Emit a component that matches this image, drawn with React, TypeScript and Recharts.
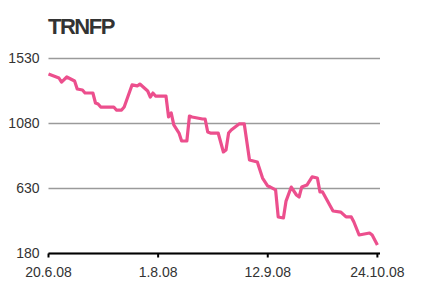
import React from "react";
import {
  LineChart,
  Line,
  XAxis,
  YAxis,
  CartesianGrid,
} from "recharts";

const title = "TRNFP";

// closing prices
const dates = [
  "2008-06-20", "2008-06-24", "2008-06-25", "2008-06-27", "2008-06-30",
  "2008-07-01", "2008-07-03", "2008-07-04", "2008-07-07", "2008-07-08",
  "2008-07-09", "2008-07-10", "2008-07-15", "2008-07-16", "2008-07-18",
  "2008-07-19", "2008-07-22", "2008-07-24", "2008-07-25", "2008-07-28",
  "2008-07-29", "2008-07-30", "2008-07-31", "2008-08-04", "2008-08-05",
  "2008-08-06", "2008-08-07", "2008-08-09", "2008-08-10", "2008-08-12",
  "2008-08-13", "2008-08-14", "2008-08-18", "2008-08-19", "2008-08-20",
  "2008-08-21", "2008-08-24", "2008-08-26", "2008-08-27", "2008-08-28",
  "2008-08-29", "2008-09-01", "2008-09-03", "2008-09-05", "2008-09-08",
  "2008-09-10", "2008-09-12", "2008-09-13", "2008-09-15", "2008-09-16",
  "2008-09-18", "2008-09-19", "2008-09-21", "2008-09-23", "2008-09-24",
  "2008-09-25", "2008-09-27", "2008-09-29", "2008-10-01", "2008-10-02",
  "2008-10-03", "2008-10-07", "2008-10-10", "2008-10-12", "2008-10-14",
  "2008-10-15", "2008-10-17", "2008-10-21", "2008-10-22", "2008-10-24",
];

const prices = [
  1423, 1395, 1367, 1402, 1374,
  1319, 1312, 1291, 1291, 1222,
  1215, 1194, 1194, 1173, 1173,
  1194, 1347, 1340, 1353, 1305,
  1263, 1291, 1270, 1270, 1125,
  1153, 1070, 1014, 959, 959,
  1132, 1125, 1111, 1111, 1021,
  1014, 1014, 883, 897, 1014,
  1035, 1077, 1077, 827, 813,
  702, 647, 640, 620, 433,
  426, 543, 640, 585, 571,
  640, 654, 710, 703, 606,
  606, 474, 467, 433, 433,
  398, 308, 322, 308, 239,
];

const xTickDates = ["2008-06-20", "2008-08-01", "2008-09-12", "2008-10-24"];
const xTickLabels = ["20.6.08", "1.8.08", "12.9.08", "24.10.08"];
const yTicks = [180, 630, 1080, 1530];

const toTime = (d: string) => new Date(d + "T00:00:00Z").getTime();
const DAY = 24 * 3600 * 1000;

const data = dates.map((d, i) => ({ t: toTime(d), price: prices[i] }));
const xTicks = xTickDates.map(toTime);

const formatX = (v: number) => {
  const i = xTicks.indexOf(v);
  return i >= 0 ? xTickLabels[i] : "";
};

const App = () => {
  return (
    <div
      style={{
        position: "absolute",
        left: 0,
        top: 0,
        width: 422,
        height: 293,
        background: "#fff",
        fontFamily: "'Liberation Sans', Arial, sans-serif",
      }}
    >
      <div
        style={{
          position: "absolute",
          left: 48,
          top: 16,
          fontSize: 22,
          lineHeight: "22px",
          fontWeight: 700,
          letterSpacing: -1.5,
          color: "#333",
        }}
      >
        {title}
      </div>
      <LineChart
        width={422}
        height={293}
        data={data}
        margin={{ top: 58.5, right: 42, bottom: 0, left: 0 }}
      >
        <CartesianGrid
          horizontal={true}
          vertical={false}
          stroke="#9a9a9a"
          strokeWidth={1.5}
        />
        <XAxis
          dataKey="t"
          type="number"
          domain={[xTicks[0], xTicks[3] + DAY]}
          ticks={xTicks}
          tickFormatter={formatX}
          height={39.5}
          axisLine={{ stroke: "#000", strokeWidth: 2 }}
          tickLine={{ stroke: "#000", strokeWidth: 2 }}
          tickSize={4}
          tickMargin={10}
          tick={{ fontSize: 14, fill: "#333" }}
        />
        <YAxis
          domain={[180, 1530]}
          ticks={yTicks}
          width={48.5}
          axisLine={false}
          tickLine={false}
          tickSize={0}
          tickMargin={9}
          tick={{ fontSize: 14, fill: "#333" }}
        />
        <Line
          type="linear"
          dataKey="price"
          stroke="#ec4f8d"
          strokeWidth={3.2}
          strokeLinejoin="round"
          dot={false}
          isAnimationActive={false}
        />
      </LineChart>
    </div>
  );
};

export default App;
